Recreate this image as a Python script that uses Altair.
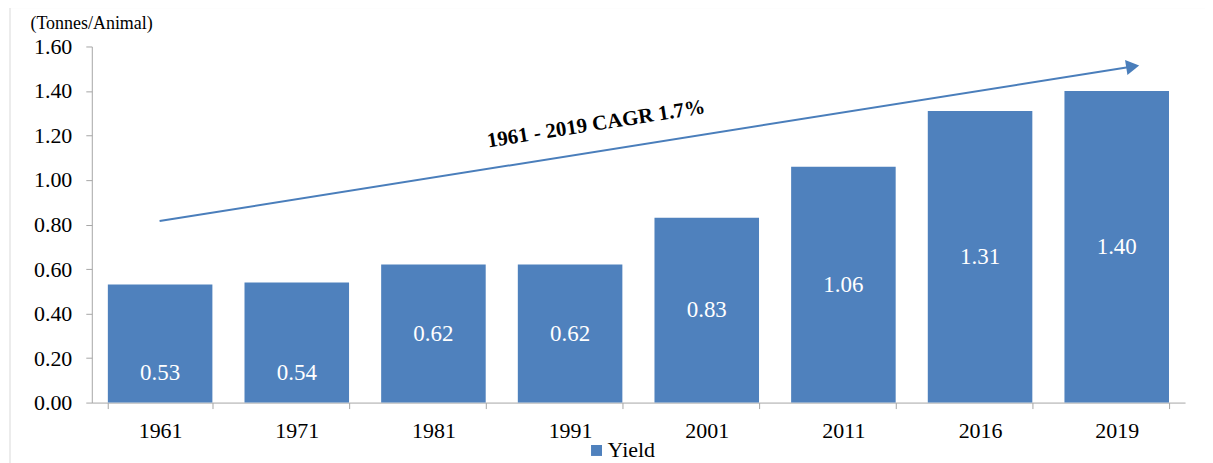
import altair as alt
import pandas as pd

years = ["1961", "1971", "1981", "1991", "2001", "2011", "2016", "2019"]
yield_vals = [0.53, 0.54, 0.62, 0.62, 0.83, 1.06, 1.31, 1.40]
label_y = [0.135, 0.135, 0.31, 0.31, 0.415, 0.53, 0.655, 0.70]
series_name = "Yield"

arrow_x = [0.496, 7.617]
arrow_y = [0.816, 1.510]
note_text = "1961 - 2019 CAGR 1.7%"
note_x = [3.69]
note_y = [1.25]

BLUE = "#4F81BD"
SERIF = "Liberation Serif"
W, H = 1096, 357

bars_df = pd.DataFrame({"year": years, "value": yield_vals, "ly": label_y,
                        "label": [f"{v:.2f}" for v in yield_vals],
                        "series": [series_name] * len(years)})
arrow_df = pd.DataFrame({"x": arrow_x, "y": arrow_y})
head_df = pd.DataFrame({"x": arrow_x[1:], "y": arrow_y[1:]})
note_df = pd.DataFrame({"x": note_x, "y": note_y, "t": [note_text]})

yscale = alt.Scale(domain=[0, 1.6])
xband = alt.X("year:N", sort=years,
              scale=alt.Scale(paddingInner=0.235, paddingOuter=0.1175),
              axis=alt.Axis(title=None, labelAngle=0, tickBand="extent",
                            tickSize=6, labelPadding=12, labelFontSize=22,
                            labelFont=SERIF, labelColor="#000000",
                            domainColor="#A6A6A6", tickColor="#A6A6A6"))
yaxis = alt.Axis(title="(Tonnes/Animal)", titleAngle=0, titleAlign="left",
                 titleBaseline="middle", titleX=-62, titleY=-23,
                 titleFont=SERIF, titleFontSize=18, titleFontWeight="normal",
                 titleColor="#000000",
                 values=[0, 0.2, 0.4, 0.6, 0.8, 1.0, 1.2, 1.4, 1.6],
                 format=".2f", grid=False, tickSize=6, labelPadding=14,
                 labelFont=SERIF, labelFontSize=22, labelColor="#000000",
                 domainColor="#A6A6A6", tickColor="#A6A6A6")

bars = alt.Chart(bars_df).mark_bar().encode(
    x=xband,
    y=alt.Y("value:Q", scale=yscale, axis=yaxis),
    color=alt.Color("series:N", scale=alt.Scale(domain=[series_name], range=[BLUE]),
                    legend=alt.Legend(title=None, orient="none", legendX=495, legendY=394,
                                      symbolType="square", symbolSize=121,
                                      symbolStrokeWidth=0, labelOffset=0,
                                      labelFont=SERIF, labelFontSize=22,
                                      labelColor="#000000")),
)

labels = alt.Chart(bars_df).mark_text(font=SERIF, fontSize=23, color="white",
                                      baseline="middle").encode(
    x=alt.X("year:N", sort=years), y=alt.Y("ly:Q", scale=yscale, axis=yaxis),
    text="label:N")

xq = alt.Scale(domain=[0, 8])
arrow = alt.Chart(arrow_df).mark_line(color="#4A7EBB", strokeWidth=2).encode(
    x=alt.X("x:Q", scale=xq, axis=None), y=alt.Y("y:Q", scale=yscale, axis=None))
head = alt.Chart(head_df).mark_point(shape="triangle-right", size=230, filled=True,
                                     color="#4A7EBB", opacity=1, angle=351).encode(
    x=alt.X("x:Q", scale=xq, axis=None), y=alt.Y("y:Q", scale=yscale, axis=None))
note = alt.Chart(note_df).mark_text(font=SERIF, fontSize=21, fontWeight="bold",
                                    angle=351, color="#000000").encode(
    x=alt.X("x:Q", scale=xq, axis=None), y=alt.Y("y:Q", scale=yscale, axis=None),
    text="t:N")

border = alt.Chart(pd.DataFrame({"a": [0]})).mark_rect(
    filled=False, stroke="#D9D9D9", strokeWidth=1).encode(
    x=alt.value(-82), x2=alt.value(W + 200), y=alt.value(-39), y2=alt.value(H + 200))

front = alt.layer(bars, labels)
overlay = alt.layer(arrow, head, note)
chart = alt.layer(front, overlay, border).resolve_scale(
    x="independent").resolve_axis(y="independent", x="independent").properties(
    width=W, height=H,
    autosize=alt.AutoSizeParams(type="none"),
    padding={"left": 84, "top": 38, "right": 20, "bottom": 60},
).configure_view(stroke=None)

chart.save("out.html", embed_options={"renderer": "svg", "actions": False})
